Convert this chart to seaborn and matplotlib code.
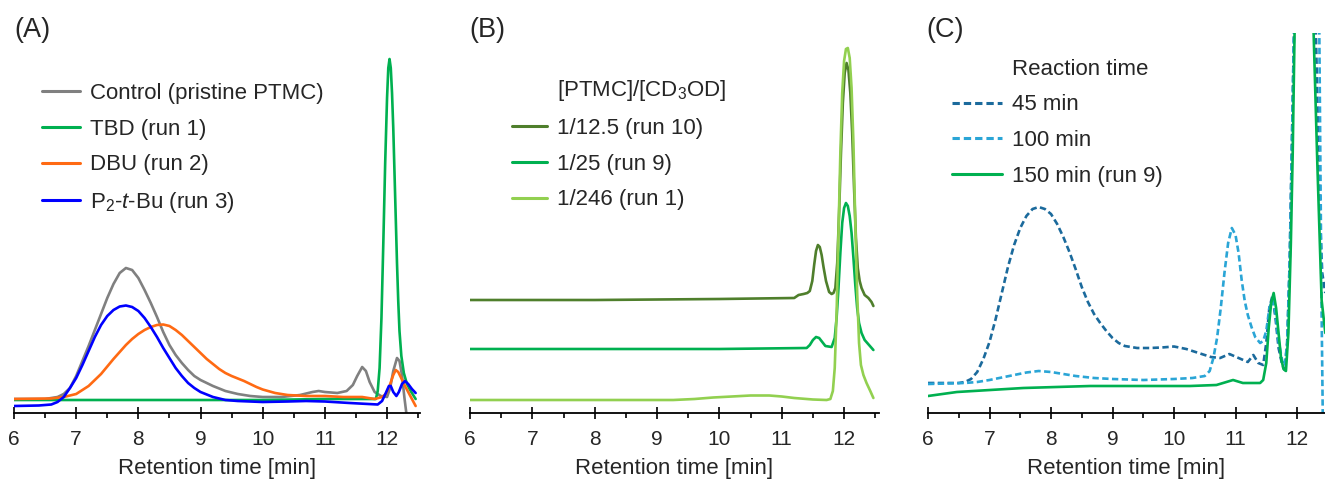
import numpy as np
import seaborn as sns
import matplotlib.pyplot as plt
from matplotlib.lines import Line2D
from matplotlib.ticker import MultipleLocator

sns.set_theme(style="white")
plt.rcParams['font.family'] = ['Liberation Sans', 'DejaVu Sans']
plt.rcParams['mathtext.fontset'] = 'custom'
plt.rcParams['mathtext.rm'] = 'Liberation Sans'
plt.rcParams['mathtext.it'] = 'Liberation Sans:italic'

# ---- panel A : catalysts (signal heights in arbitrary units) ----
a_ctrl_t = [6.0, 6.5, 6.6, 6.7, 6.8, 6.9, 7.0, 7.1, 7.2, 7.3, 7.4, 7.5, 7.6, 7.7, 7.8, 7.9, 8.0, 8.1,
            8.2, 8.3, 8.4, 8.5, 8.6, 8.7, 8.8, 8.9, 9.0, 9.2, 9.4, 9.6, 9.8, 10.0, 10.3, 10.6, 10.8,
            10.9, 11.0, 11.2, 11.35, 11.45, 11.52, 11.6, 11.66, 11.72, 11.8, 11.9, 12.0, 12.05, 12.1,
            12.16, 12.2, 12.24, 12.28, 12.31, 12.34]
a_ctrl_y = [14, 14, 15, 16, 19, 25, 37, 52, 67, 83, 99, 115, 129, 140, 145, 143, 135, 123,
            110, 96, 81, 68, 58, 50, 43, 37, 33, 27, 22, 19, 17, 16, 16, 18, 21,
            22, 21, 20, 22, 28, 37, 46, 42, 31, 21, 17, 16, 25, 42,
            55, 52, 38, 15, 0, -6]
a_tbd_t = [6.0, 7.0, 8.0, 9.0, 10.0, 11.0, 11.82, 11.85, 11.88, 11.91, 11.94, 11.97, 12.0, 12.02,
           12.04, 12.06, 12.08, 12.1, 12.12, 12.14, 12.16, 12.18, 12.2, 12.23, 12.27, 12.32, 12.38, 12.46]
a_tbd_y = [13, 13, 13, 13, 13, 14, 14, 22, 45, 95, 170, 250, 315, 345,
           354, 345, 320, 285, 240, 195, 150, 112, 82, 57, 40, 29, 22, 14]
a_dbu_t = [6.0, 6.6, 6.8, 7.0, 7.2, 7.4, 7.6, 7.8, 7.9, 8.0, 8.1, 8.2, 8.3, 8.4, 8.5, 8.6, 8.7, 8.8,
           8.9, 9.0, 9.1, 9.2, 9.3, 9.4, 9.5, 9.6, 9.7, 9.8, 9.9, 10.0, 10.2, 10.4, 10.7, 11.0, 11.3,
           11.6, 11.8, 11.92, 11.98, 12.04, 12.1, 12.14, 12.18, 12.22, 12.28, 12.34, 12.4, 12.46]
a_dbu_y = [14, 14.5, 16, 19, 27, 39, 54, 68, 74, 79, 83, 86, 88, 88.5, 87, 83, 78, 72,
           66, 60, 54, 49, 44, 40, 37, 34.5, 32, 29, 26, 23.5, 20, 18, 17, 17, 16,
           16, 14, 16, 19, 27, 38, 43, 41, 36, 28, 21, 14, 7]
a_p2_t = [6.0, 6.4, 6.6, 6.7, 6.8, 6.9, 7.0, 7.1, 7.2, 7.3, 7.4, 7.5, 7.6, 7.7, 7.8, 7.9, 8.0, 8.1,
          8.2, 8.3, 8.4, 8.5, 8.6, 8.7, 8.8, 8.9, 9.0, 9.2, 9.4, 9.6, 10.0, 10.4, 10.7, 11.0, 11.4,
          11.7, 11.85, 11.92, 11.98, 12.03, 12.06, 12.1, 12.15, 12.19, 12.24, 12.29, 12.34, 12.4, 12.46]
a_p2_y = [7, 7.5, 8.5, 11, 16, 25, 35, 48, 62, 76, 88, 97, 103, 106.5, 107.5, 106, 102, 95,
          86, 76, 65, 55, 45, 37, 30, 25, 21, 16, 13, 12, 11, 11.5, 12, 11.5, 10,
          9, 8.5, 12, 20, 27, 27, 21, 17, 21, 29, 32, 29, 24, 20]
a_labels = ['Control (pristine PTMC)', 'TBD (run 1)', 'DBU (run 2)', 'P$_2$-$\\mathit{t}$-Bu (run 3)']
a_colors = ['#808080', '#00b050', '#ff6a13', '#0000ff']

# ---- panel B : [PTMC]/[CD3OD] ----
b_title = '[PTMC]/[CD$_3$OD]'
b_r10_t = [6.0, 8.0, 10.0, 11.2, 11.27, 11.35, 11.41, 11.45, 11.49, 11.52, 11.55, 11.58, 11.61, 11.64,
           11.67, 11.71, 11.76, 11.8, 11.83, 11.86, 11.89, 11.92, 11.95, 11.98, 12.01, 12.04, 12.07,
           12.1, 12.13, 12.16, 12.19, 12.22, 12.25, 12.28, 12.33, 12.39, 12.44, 12.47]
b_r10_y = [113, 113, 114, 115, 118, 119, 120, 122, 132, 148, 162, 168, 166, 158,
           146, 132, 121, 119, 120, 125, 150, 200, 260, 310, 340, 350, 343,
           320, 280, 225, 175, 145, 132, 125, 118, 115, 111, 107]
b_r9_t = [6.0, 8.0, 10.0, 11.4, 11.45, 11.5, 11.55, 11.6, 11.65, 11.7, 11.8, 11.85, 11.88, 11.91,
          11.94, 11.97, 12.0, 12.03, 12.06, 12.09, 12.12, 12.15, 12.18, 12.21, 12.24, 12.28, 12.33,
          12.4, 12.47]
b_r9_y = [64, 64, 64, 65, 68, 73, 76, 75, 71, 67, 66, 75, 95, 125,
          160, 190, 205, 210, 207, 197, 180, 155, 128, 105, 90, 80, 73,
          68, 63]
b_r1_t = [6.0, 8.0, 9.26, 9.6, 9.9, 10.2, 10.5, 10.8, 11.0, 11.2, 11.5, 11.72, 11.78, 11.82, 11.85,
          11.88, 11.91, 11.94, 11.97, 12.0, 12.03, 12.06, 12.09, 12.12, 12.15, 12.18, 12.21, 12.24,
          12.27, 12.31, 12.36, 12.42, 12.47]
b_r1_y = [13, 13, 13, 14, 15.5, 16.5, 17.5, 17.5, 16.5, 15, 13.5, 13, 14, 22, 45,
          100, 180, 260, 320, 352, 364, 365, 355, 325, 270, 190, 120, 70,
          48, 38, 30, 22, 15]
b_labels = ['1/12.5 (run 10)', '1/25 (run 9)', '1/246 (run 1)']
b_colors = ['#4f7f2c', '#00b050', '#92d050']

# ---- panel C : reaction time ----
c_title = 'Reaction time'
c_45_t = [6.0, 6.5, 6.6, 6.7, 6.8, 6.9, 7.0, 7.1, 7.2, 7.3, 7.4, 7.5, 7.6, 7.7, 7.8, 7.9, 8.0, 8.1,
          8.2, 8.3, 8.4, 8.5, 8.6, 8.7, 8.8, 8.9, 9.0, 9.1, 9.2, 9.4, 9.6, 9.8, 10.0, 10.2, 10.4,
          10.6, 10.75, 10.9, 11.05, 11.2, 11.29, 11.37, 11.45, 11.5, 11.55, 11.6, 11.65, 11.7, 11.76,
          11.8, 11.84, 11.88, 11.92, 11.95, 11.98, 12.1, 12.25, 12.3, 12.37, 12.41, 12.46]
c_45_y = [30, 30, 31, 34, 41, 54, 71, 94, 120, 146, 168, 185, 197, 204, 206, 204, 199, 189,
          176, 161, 144, 126, 111, 99, 90, 82, 75, 70, 67, 65, 65, 65.5, 66.5, 64, 60,
          56, 55, 59, 55, 51, 58, 50, 48, 70, 105, 117, 95, 65, 48,
          43, 70, 150, 280, 380, 600, 700, 500, 400, 200, 140, 120]
c_100_t = [6.0, 6.6, 6.8, 7.0, 7.2, 7.4, 7.6, 7.8, 8.0, 8.2, 8.4, 8.7, 9.0, 9.5, 10.0, 10.3, 10.5,
           10.58, 10.64, 10.7, 10.76, 10.82, 10.88, 10.94, 11.0, 11.05, 11.1, 11.15, 11.2, 11.26,
           11.32, 11.4, 11.45, 11.5, 11.55, 11.6, 11.65, 11.7, 11.76, 11.8, 11.84, 11.88, 11.92,
           11.95, 11.98, 12.1, 12.25, 12.36, 12.4, 12.42]
c_100_y = [29, 30, 31, 33, 35.5, 38, 40.5, 42, 41, 39, 37, 35, 34, 33, 34, 35, 37,
           42, 55, 75, 105, 140, 170, 185, 178, 160, 133, 112, 98, 86,
           76, 70, 72, 82, 105, 113, 100, 72, 52, 47, 70, 150, 280,
           380, 600, 900, 700, 400, 100, -10]
c_150_t = [6.0, 6.47, 7.01, 7.55, 8.09, 8.64, 9.18, 9.72, 10.26, 10.69, 10.96, 11.12, 11.4, 11.45,
           11.5, 11.54, 11.58, 11.62, 11.66, 11.7, 11.74, 11.78, 11.82, 11.86, 11.9, 11.93, 11.96,
           12.0, 12.12, 12.22, 12.27, 12.33, 12.4, 12.46]
c_150_y = [17, 21, 23, 25, 26, 27, 27, 27, 27, 28, 33, 30, 30, 33,
           50, 85, 110, 120, 105, 80, 55, 44, 42, 80, 170, 260, 380,
           700, 900, 500, 380, 250, 113, 80]
c_labels = ['45 min', '100 min', '150 min (run 9)']
c_colors = ['#1b6a9c', '#2aa5d6', '#00b050']

fig = plt.figure(figsize=(13.25, 4.79), dpi=100)
bottom, height = 1 - 413 / 479, 380 / 479
axA = fig.add_axes([14 / 1325, bottom, 406 / 1325, height])
axB = fig.add_axes([470 / 1325, bottom, 409 / 1325, height])
axC = fig.add_axes([928 / 1325, bottom, 397 / 1325, height])

lw = 1.9
for t, y, lab, col in zip([a_ctrl_t, a_tbd_t, a_dbu_t, a_p2_t], [a_ctrl_y, a_tbd_y, a_dbu_y, a_p2_y],
                          a_labels, a_colors):
    sns.lineplot(x=t, y=y, ax=axA, color=col, lw=lw, label=lab, sort=False, estimator=None)

for t, y, lab, col in zip([b_r10_t, b_r9_t, b_r1_t], [b_r10_y, b_r9_y, b_r1_y], b_labels, b_colors):
    sns.lineplot(x=t, y=y, ax=axB, color=col, lw=lw, label=lab, sort=False, estimator=None)

for t, y, lab, col, ls in zip([c_45_t, c_100_t, c_150_t], [c_45_y, c_100_y, c_150_y], c_labels, c_colors,
                              [(0, (2.4, 1.3)), (0, (2.4, 1.3)), '-']):
    sns.lineplot(x=t, y=y, ax=axC, color=col, lw=lw, label=lab, sort=False, estimator=None, linestyle=ls)

for ax, xmax in zip([axA, axB, axC], [12.53, 12.56, 12.455]):
    ax.set_xlim(6, xmax)
    ax.set_ylim(0, 380)
    ax.set_facecolor('white')
    for s in ['top', 'left', 'right']:
        ax.spines[s].set_visible(False)
    ax.spines['bottom'].set_linewidth(1.3)
    ax.spines['bottom'].set_color('black')
    ax.set_yticks([])
    ax.xaxis.set_major_locator(MultipleLocator(1))
    ax.xaxis.set_minor_locator(MultipleLocator(0.5))
    ax.tick_params(axis='x', which='major', direction='inout', length=9, width=1.2, color='black',
                   labelsize=15, pad=7.5, bottom=True)
    ax.tick_params(axis='x', which='minor', direction='out', length=3.5, width=1.2, color='black', bottom=True)
    ax.set_xlabel('Retention time [min]', fontsize=16, labelpad=6.5)
    ax.set_ylabel('')


def put_legend(ax, anchor, hlen, title=None):
    handles, labels = ax.get_legend_handles_labels()
    if title is not None:
        handles = [Line2D([], [], color='none')] + handles
        labels = [title] + labels
    leg = ax.legend(handles, labels, loc='upper left', bbox_to_anchor=anchor, frameon=False, fontsize=16,
                    handlelength=hlen, handletextpad=0.45, labelspacing=0.66)
    for h in leg.get_lines():
        h.set_linewidth(2.2)
    return leg


put_legend(axA, (0.02, 0.921), 1.7)
put_legend(axB, (0.053, 0.933), 1.6, b_title)
put_legend(axC, (0.01, 0.985), 2.25, c_title)

for x, lab in [(14, '(A)'), (469, '(B)'), (926, '(C)')]:
    fig.text(x / 1325, 1 - 17 / 479, lab, fontsize=19.5, va='top', ha='left')

fig.savefig('out.png', dpi=100, facecolor='white')
